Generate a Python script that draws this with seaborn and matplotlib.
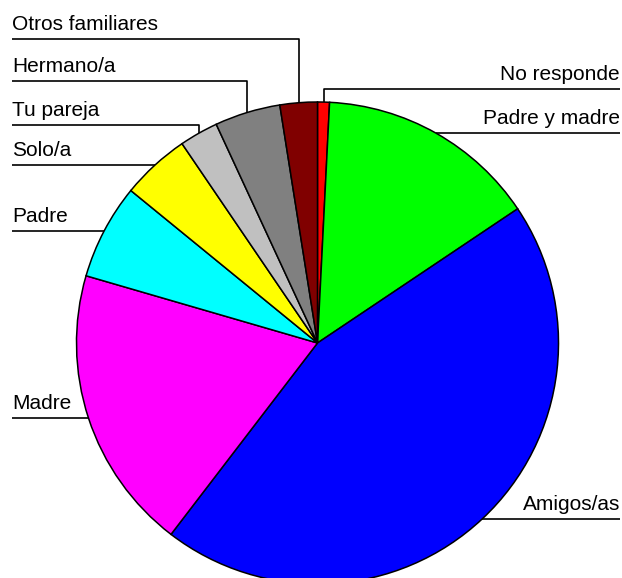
import numpy as np
import matplotlib
matplotlib.use("Agg")
import matplotlib.pyplot as plt
import seaborn as sns

# ---- data (clockwise from top) ----
categories = ["No responde", "Padre y madre", "Amigos/as", "Madre", "Padre",
              "Solo/a", "Tu pareja", "Hermano/a", "Otros familiares"]
values = [0.8, 14.8, 44.8, 19.1, 6.4, 4.6, 2.6, 4.4, 2.5]
colors = ["#FF0000", "#00FF00", "#0000FF", "#FF00FF", "#00FFFF",
          "#FFFF00", "#C0C0C0", "#808080", "#800000"]

# label layout: side and y (pixels from top) of the label underline; None = level with wedge point
label_side = ["right", "right", "right", "left", "left", "left", "left", "left", "left"]
label_line_y = [89, None, None, None, None, None, 125, 81, 39]

sns.set_theme(style="white")
plt.rcParams["font.family"] = ["Liberation Sans", "DejaVu Sans"]

W, H = 622, 578
fig = plt.figure(figsize=(W / 100, H / 100), dpi=100)
ax = fig.add_axes([0, 0, 1, 1])

cx, cy_px, r = 317.5, 343, 241
cy = H - cy_px

wedges, _ = ax.pie(values, colors=colors, startangle=90, counterclock=False,
                   center=(cx, cy), radius=r,
                   wedgeprops=dict(edgecolor="black", linewidth=1.1))
ax.set_xlim(0, W)
ax.set_ylim(0, H)
ax.set_aspect("equal")
ax.axis("off")

left_x, right_x = 12, 620
for w, lab, side, ly in zip(wedges, categories, label_side, label_line_y):
    mid = np.deg2rad((w.theta1 + w.theta2) / 2)
    px = cx + r * np.cos(mid)
    py = cy + r * np.sin(mid)
    line_y = py if ly is None else H - ly
    end_x = left_x if side == "left" else right_x
    ax.plot([end_x, px, px], [line_y, line_y, py], color="black", lw=1.2,
            solid_capstyle="butt", zorder=3, clip_on=False)
    ax.text(end_x, line_y + 9, lab, ha="left" if side == "left" else "right",
            va="baseline", fontsize=15, color="black")

fig.savefig("out.png", dpi=100)
